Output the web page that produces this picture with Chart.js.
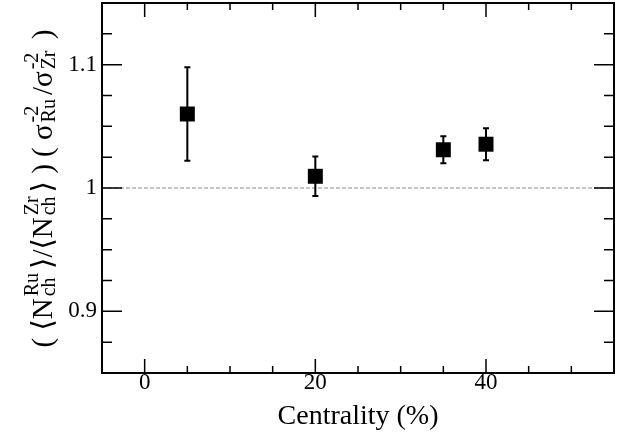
<!DOCTYPE html>
<html>
<head>
<script src="https://cdn.jsdelivr.net/npm/chart.js@4/dist/chart.umd.min.js"></script>
<style>
  body { margin: 0; background: #fff; }
</style>
</head>
<body>
<canvas id="myChart" width="624" height="436"></canvas>
<script>
// data
const centrality = [5, 20, 35, 40];
const ratio = [1.060, 1.0095, 1.031, 1.0355];
const ratioErr = [0.038, 0.016, 0.011, 0.013];

// axis ticks
const xMajorTicks = [0, 20, 40];
const xTickLabels = ['0', '20', '40'];
const yMajorTicks = [0.9, 1, 1.1];
const yTickLabels = ['0.9', '1', '1.1'];
const xMin = -5, xMax = 55, xMinorStep = 5;
const yMin = 0.85, yMax = 1.15, yMinorStep = 0.025;

const FONT = '"Liberation Serif", "DejaVu Serif", serif';

function minorList(min, max, step) {
    const out = [];
    for (let k = Math.ceil(min / step - 1e-6); k * step <= max + 1e-9; k++) {
        out.push(Math.round(k * step * 1000) / 1000);
    }
    return out;
}
const xAll = minorList(xMin, xMax, xMinorStep);
const yAll = minorList(yMin, yMax, yMinorStep);

function isMajor(list, v) { return list.some(m => Math.abs(m - v) < 1e-6); }
function labelFor(list, labels, v) {
    const i = list.findIndex(m => Math.abs(m - v) < 1e-6);
    return i >= 0 ? labels[i] : null;
}

// y title with sub/superscripts, ROOT style
const yTitle = [
    { t: '( \u27E8N' }, { sub: 'ch', sup: 'Ru' }, { t: '\u27E9/\u27E8N' }, { sub: 'ch', sup: 'Zr' },
    { t: '\u27E9 ) ( \u03C3' }, { sub: 'Ru', sup: '-2' }, { t: '/\u03C3' }, { sub: 'Zr', sup: '-2' }, { t: ' )' }
];

const rootPlugin = {
    id: 'rootStyle',
    beforeDatasetsDraw(chart) {
        const { ctx, chartArea: a, scales: { x, y } } = chart;
        ctx.save();
        // dashed line at 1
        ctx.strokeStyle = '#8c8c8c';
        ctx.lineWidth = 1;
        ctx.setLineDash([4, 2]);
        ctx.beginPath();
        ctx.moveTo(a.left, y.getPixelForValue(1));
        ctx.lineTo(a.right, y.getPixelForValue(1));
        ctx.stroke();
        ctx.setLineDash([]);
        // error bars
        ctx.strokeStyle = '#000';
        ctx.lineWidth = 2;
        centrality.forEach((c, i) => {
            const px = x.getPixelForValue(c);
            const top = y.getPixelForValue(ratio[i] + ratioErr[i]);
            const bot = y.getPixelForValue(ratio[i] - ratioErr[i]);
            ctx.beginPath();
            ctx.moveTo(px, top); ctx.lineTo(px, bot);
            ctx.moveTo(px - 3, top); ctx.lineTo(px + 3, top);
            ctx.moveTo(px - 3, bot); ctx.lineTo(px + 3, bot);
            ctx.stroke();
        });
        ctx.restore();
    },
    afterDraw(chart) {
        const { ctx, chartArea: a, scales: { x, y } } = chart;
        ctx.save();
        ctx.strokeStyle = '#000';
        ctx.lineWidth = 1.5;
        // ticks inside the frame
        ctx.beginPath();
        xAll.forEach(v => {
            const px = x.getPixelForValue(v);
            const len = isMajor(xMajorTicks, v) ? 14 : 7;
            ctx.moveTo(px, a.bottom); ctx.lineTo(px, a.bottom - len);
            ctx.moveTo(px, a.top); ctx.lineTo(px, a.top + len);
        });
        yAll.forEach(v => {
            const py = y.getPixelForValue(v);
            const len = isMajor(yMajorTicks, v) ? 20 : 10;
            ctx.moveTo(a.left, py); ctx.lineTo(a.left + len, py);
            ctx.moveTo(a.right, py); ctx.lineTo(a.right - len, py);
        });
        ctx.stroke();
        // frame
        ctx.lineWidth = 2;
        ctx.strokeRect(a.left, a.top, a.right - a.left, a.bottom - a.top);

        // y title
        const mainF = '29px ' + FONT, subF = '20px ' + FONT;
        let total = 0;
        yTitle.forEach(s => {
            if (s.t) { ctx.font = mainF; s.w = ctx.measureText(s.t).width + 3; }
            else { ctx.font = subF; s.w = Math.max(ctx.measureText(s.sub).width, ctx.measureText(s.sup).width) + 3; }
            total += s.w;
        });
        ctx.translate(52, (a.top + a.bottom) / 2);
        ctx.rotate(-Math.PI / 2);
        ctx.fillStyle = '#000';
        ctx.textBaseline = 'alphabetic';
        ctx.textAlign = 'left';
        let cx = -total / 2;
        yTitle.forEach(s => {
            if (s.t) {
                ctx.font = mainF; ctx.fillText(s.t, cx + 1, 0);
            } else {
                ctx.font = subF;
                ctx.fillText(s.sub, cx, 3);
                ctx.fillText(s.sup, cx, -14);
            }
            cx += s.w;
        });
        ctx.restore();
    }
};

new Chart(document.getElementById('myChart'), {
    type: 'scatter',
    data: {
        datasets: [{
            data: centrality.map((c, i) => ({ x: c, y: ratio[i] })),
            pointStyle: 'rect',
            pointRadius: 10.6,
            pointHoverRadius: 10.6,
            backgroundColor: '#000',
            borderColor: '#000',
            borderWidth: 0
        }]
    },
    options: {
        responsive: false,
        animation: false,
        layout: { autoPadding: false, padding: { top: 3, right: 10, left: 0, bottom: 0 } },
        plugins: { legend: { display: false }, tooltip: { enabled: false } },
        scales: {
            x: {
                type: 'linear',
                min: xMin, max: xMax,
                afterBuildTicks: s => { s.ticks = xAll.map(v => ({ value: v })); },
                afterFit: s => { s.height = 63; s.paddingLeft = 0; s.paddingRight = 0; },
                grid: { display: false, drawTicks: false },
                border: { display: false },
                ticks: {
                    autoSkip: false, maxRotation: 0, padding: -4,
                    color: '#000', font: { family: FONT, size: 23 },
                    callback: v => labelFor(xMajorTicks, xTickLabels, v)
                },
                title: {
                    display: true, text: 'Centrality (%)', color: '#000',
                    font: { family: FONT, size: 28 }, padding: { top: 0, bottom: 3 }
                }
            },
            y: {
                min: yMin, max: yMax,
                afterBuildTicks: s => { s.ticks = yAll.map(v => ({ value: v })); },
                afterFit: s => { s.width = 102; s.paddingTop = 0; s.paddingBottom = 0; },
                grid: { display: false, drawTicks: false },
                border: { display: false },
                ticks: {
                    autoSkip: false, padding: 5,
                    color: '#000', font: { family: FONT, size: 23 },
                    callback: v => labelFor(yMajorTicks, yTickLabels, v)
                }
            }
        }
    },
    plugins: [rootPlugin]
});
</script>
</body>
</html>
